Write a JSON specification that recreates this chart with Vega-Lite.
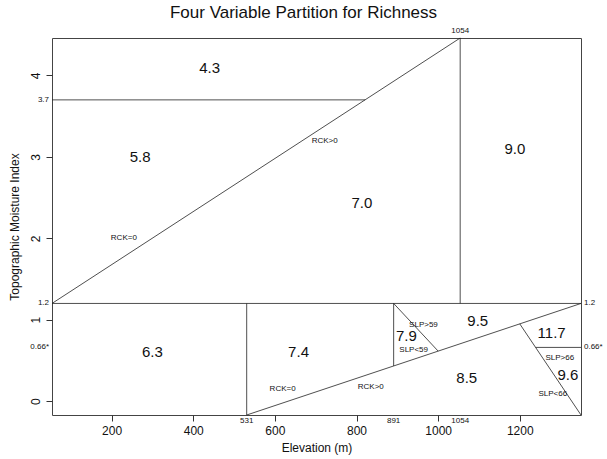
{
  "$schema": "https://vega.github.io/schema/vega-lite/v6.json",
  "width": 529,
  "height": 377,
  "autosize": {"type": "none"},
  "padding": {"left": 52, "top": 38, "right": 26, "bottom": 44},
  "config": {
    "font": "Liberation Sans",
    "view": {"stroke": "#444", "strokeWidth": 1},
    "axis": {"grid": false, "domain": false, "tickColor": "#333", "tickSize": 6, "labelColor": "#111", "titleColor": "#111", "labelFontSize": 12, "titleFontSize": 12, "titleFontWeight": "normal"}
  },
  "title": {"text": "Four Variable Partition for Richness", "fontSize": 17, "fontWeight": "normal", "color": "#111", "offset": 5, "dx": -13},
  "datasets": {
    "segs": [
      {"x1": 54, "y1": 1.2, "x2": 1054, "y2": 4.46},
      {"x1": 54, "y1": 3.7, "x2": 821, "y2": 3.7},
      {"x1": 1054, "y1": 1.2, "x2": 1054, "y2": 4.46},
      {"x1": 54, "y1": 1.2, "x2": 1350, "y2": 1.2},
      {"x1": 531, "y1": -0.17, "x2": 531, "y2": 1.2},
      {"x1": 531, "y1": -0.17, "x2": 1350, "y2": 1.2},
      {"x1": 891, "y1": 0.432, "x2": 891, "y2": 1.2},
      {"x1": 891, "y1": 1.2, "x2": 1000, "y2": 0.615},
      {"x1": 1200, "y1": 0.949, "x2": 1350, "y2": -0.17},
      {"x1": 1239, "y1": 0.66, "x2": 1350, "y2": 0.66}
    ],
    "big": [
      {"x": 440, "y": 4.09, "t": "4.3"},
      {"x": 270, "y": 3.0, "t": "5.8"},
      {"x": 813, "y": 2.43, "t": "7.0"},
      {"x": 1188, "y": 3.1, "t": "9.0"},
      {"x": 300, "y": 0.6, "t": "6.3"},
      {"x": 658, "y": 0.6, "t": "7.4"},
      {"x": 922, "y": 0.8, "t": "7.9"},
      {"x": 1097, "y": 0.98, "t": "9.5"},
      {"x": 1278, "y": 0.84, "t": "11.7"},
      {"x": 1318, "y": 0.32, "t": "9.6"},
      {"x": 1070, "y": 0.28, "t": "8.5"}
    ],
    "small": [
      {"x": 230, "y": 2.0, "t": "RCK=0"},
      {"x": 722, "y": 3.2, "t": "RCK>0"},
      {"x": 964, "y": 0.94, "t": "SLP>59"},
      {"x": 940, "y": 0.63, "t": "SLP<59"},
      {"x": 1298, "y": 0.53, "t": "SLP>66"},
      {"x": 1281, "y": 0.09, "t": "SLP<66"},
      {"x": 619, "y": 0.15, "t": "RCK=0"},
      {"x": 835, "y": 0.17, "t": "RCK>0"}
    ],
    "leftm": [
      {"x": 54, "y": 3.7, "t": "3.7"},
      {"x": 54, "y": 1.2, "t": "1.2"},
      {"x": 54, "y": 0.66, "t": "0.66*"}
    ],
    "rightm": [
      {"x": 1350, "y": 1.2, "t": "1.2"},
      {"x": 1350, "y": 0.66, "t": "0.66*"}
    ],
    "topm": [
      {"x": 1054, "y": 4.46, "t": "1054"}
    ],
    "botm": [
      {"x": 531, "y": -0.17, "t": "531"},
      {"x": 891, "y": -0.17, "t": "891"},
      {"x": 1054, "y": -0.17, "t": "1054"}
    ]
  },
  "layer": [
    {
      "data": {"name": "segs"},
      "mark": {"type": "rule", "color": "#222", "strokeWidth": 0.8},
      "encoding": {
        "x": {"field": "x1", "type": "quantitative", "scale": {"domain": [54, 1350], "nice": false, "zero": false},
              "axis": {"title": "Elevation (m)", "values": [200, 400, 600, 800, 1000, 1200], "format": "d", "labelPadding": 4, "titlePadding": 6}},
        "y": {"field": "y1", "type": "quantitative", "scale": {"domain": [-0.17, 4.46], "nice": false, "zero": false},
              "axis": {"title": "Topographic Moisture Index", "values": [0, 1, 2, 3, 4], "format": "d", "labelAngle": -90, "labelAlign": "center", "labelBaseline": "bottom", "labelPadding": 4, "titlePadding": 8}},
        "x2": {"field": "x2"},
        "y2": {"field": "y2"}
      }
    },
    {
      "data": {"name": "big"},
      "mark": {"type": "text", "fontSize": 15, "color": "#111"},
      "encoding": {"x": {"field": "x", "type": "quantitative"}, "y": {"field": "y", "type": "quantitative"}, "text": {"field": "t"}}
    },
    {
      "data": {"name": "small"},
      "mark": {"type": "text", "fontSize": 8, "color": "#111"},
      "encoding": {"x": {"field": "x", "type": "quantitative"}, "y": {"field": "y", "type": "quantitative"}, "text": {"field": "t"}}
    },
    {
      "data": {"name": "leftm"},
      "mark": {"type": "text", "fontSize": 8, "color": "#111", "align": "right", "dx": -3},
      "encoding": {"x": {"field": "x", "type": "quantitative"}, "y": {"field": "y", "type": "quantitative"}, "text": {"field": "t"}}
    },
    {
      "data": {"name": "rightm"},
      "mark": {"type": "text", "fontSize": 8, "color": "#111", "align": "left", "dx": 3},
      "encoding": {"x": {"field": "x", "type": "quantitative"}, "y": {"field": "y", "type": "quantitative"}, "text": {"field": "t"}}
    },
    {
      "data": {"name": "topm"},
      "mark": {"type": "text", "fontSize": 8, "color": "#111", "baseline": "bottom", "dy": -3},
      "encoding": {"x": {"field": "x", "type": "quantitative"}, "y": {"field": "y", "type": "quantitative"}, "text": {"field": "t"}}
    },
    {
      "data": {"name": "botm"},
      "mark": {"type": "text", "fontSize": 8, "color": "#111", "baseline": "top", "dy": 2},
      "encoding": {"x": {"field": "x", "type": "quantitative"}, "y": {"field": "y", "type": "quantitative"}, "text": {"field": "t"}}
    }
  ]
}
